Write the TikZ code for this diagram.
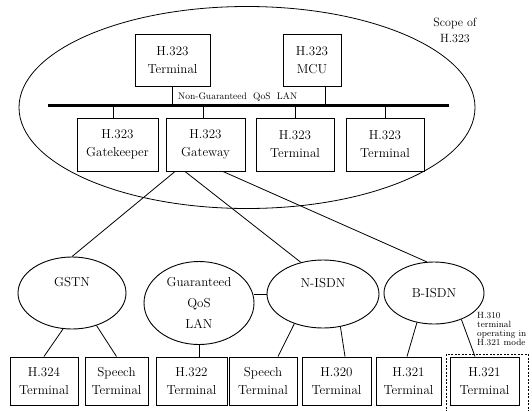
\documentclass[tikz,border=0pt]{standalone}
\usetikzlibrary{shapes.geometric}
\begin{document}
\begin{tikzpicture}[x=1pt,y=-1pt,
  box/.style={draw, line width=1pt, align=center, inner sep=0pt, font=\fontsize{13}{18}\selectfont},
  net/.style={draw, ellipse, line width=0.9pt, align=center, inner sep=0pt, font=\fontsize{13}{18}\selectfont},
  link/.style={line width=0.8pt},
]
\fill[white] (0,0) rectangle (532,410);
\useasboundingbox (0,0) rectangle (532,410);
% scope ellipse
\node[draw, ellipse, line width=0.8pt, minimum width=456pt, minimum height=202pt, inner sep=0pt] (scope) at (247,107.5) {};
\node[font=\fontsize{12}{16}\selectfont, align=center, inner sep=0pt] (scopetxt) at (455,30) {Scope of\\H.323};
% top boxes
\node[box, minimum width=75pt, minimum height=52pt] (t1) at (172.5,60) {H.323\\Terminal};
\node[box, minimum width=58pt, minimum height=52pt] (mcu) at (312,60) {H.323\\MCU};
% bus
\coordinate (busL) at (48,105);
\coordinate (busR) at (449,105);
\draw[line width=3pt] (busL) -- (busR);
\node[font=\fontsize{9.5}{11}\selectfont, anchor=base west, inner sep=0pt] (lanlbl) at (178,99.5) {Non-Guaranteed\ \ QoS\ \ LAN};
% lower boxes in scope
\node[box, minimum width=81pt, minimum height=53pt] (gk) at (117.5,144.5) {H.323\\Gatekeeper};
\node[box, minimum width=79pt, minimum height=53pt] (gw) at (205.5,144.5) {H.323\\Gateway};
\node[box, minimum width=78pt, minimum height=53pt] (t3) at (295,144.5) {H.323\\Terminal};
\node[box, minimum width=78pt, minimum height=53pt] (t4) at (385,144.5) {H.323\\Terminal};
% bus drops
\draw[link] (t1.south) -- (t1.south |- busL);
\draw[link] ([xshift=13pt]mcu.south) -- ([xshift=13pt]mcu.south |- busL);
\draw[link] ([xshift=-4.5pt]gk.north) -- ([xshift=-4.5pt]gk.north |- busL);
\draw[link] ([xshift=-2.5pt]gw.north) -- ([xshift=-2.5pt]gw.north |- busL);
\draw[link] (t3.north) -- (t3.north |- busL);
\draw[link] (t4.north) -- (t4.north |- busL);
% networks
\node[net, minimum width=108pt, minimum height=72pt] (gstn) at (72,293) {GSTN\\[4pt]};
\node[net, minimum width=110pt, minimum height=83pt, font=\fontsize{13}{21}\selectfont] (qos) at (199,303) {Guaranteed\\QoS\\LAN};
\node[net, minimum width=112pt, minimum height=68pt] (nisdn) at (323,294) {N-ISDN\\[4pt]};
\node[net, minimum width=100pt, minimum height=62pt] (bisdn) at (434,293) {B-ISDN};
% gateway links
\draw[link] ([xshift=-30.5pt]gw.south) -- (gstn.north);
\draw[link] ([xshift=-20.5pt]gw.south) -- (nisdn.125);
\draw[link] ([xshift=17.5pt]gw.south) -- (bisdn.103);
\draw[link] (nisdn.west) -- (nisdn.west -| qos.east);
% bottom terminals
\node[box, minimum width=68pt, minimum height=48pt] (h324) at (44,381) {H.324\\Terminal};
\node[box, minimum width=63pt, minimum height=48pt] (sp1) at (116.5,381) {Speech\\Terminal};
\node[box, minimum width=71pt, minimum height=48pt] (h322) at (191.5,381) {H.322\\Terminal};
\node[box, minimum width=68pt, minimum height=48pt] (sp2) at (263,381) {Speech\\Terminal};
\node[box, minimum width=69pt, minimum height=48pt] (h320) at (336.5,381) {H.320\\Terminal};
\node[box, minimum width=65pt, minimum height=48pt] (h321a) at (408.5,381) {H.321\\Terminal};
\node[box, minimum width=69pt, minimum height=48pt] (h321b) at (484.5,381) {H.321\\Terminal};
% dashed H.310 box
\node[draw, dashed, dash pattern=on 2pt off 1.5pt, line width=0.8pt, minimum width=82pt, minimum height=60pt, inner sep=0pt] (h310) at (487,384) {};
\node[font=\fontsize{9}{9}\selectfont, align=left, anchor=north west, inner sep=0pt] (h310txt) at (477,312) {H.310\\terminal\\operating in\\H.321 mode};
% network to terminal links
\draw[link] (gstn.-104) -- (h324.north);
\draw[link] (gstn.-53) -- (sp1.north);
\draw[link] (qos.south) -- (qos.south |- h322.north);
\draw[link] (nisdn.-134) -- ([xshift=15pt]sp2.north);
\draw[link] (nisdn.-62) -- ([xshift=8.5pt]h320.north);
\draw[link] (bisdn.-120) -- ([xshift=-1.5pt]h321a.north);
\draw[link] (bisdn.-44) -- ([xshift=-9.5pt]h321b.north);
\end{tikzpicture}
\end{document}
